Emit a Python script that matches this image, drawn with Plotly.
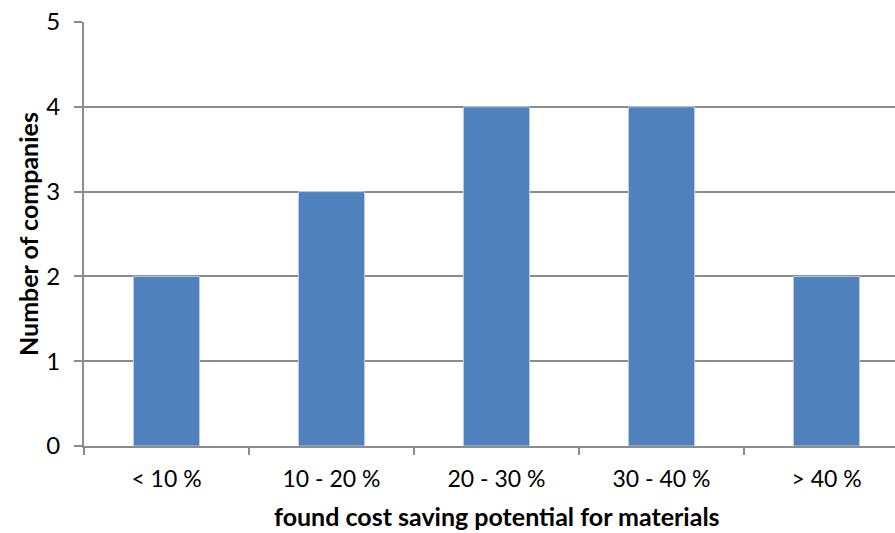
import plotly.graph_objects as go

# Survey results: cost saving potential found for materials
categories = ["< 10 %", "10 - 20 %", "20 - 30 %", "30 - 40 %", "> 40 %"]
companies = [2, 3, 4, 4, 2]

y_ticks = [0, 1, 2, 3, 4, 5]

FONT = "Lato, Calibri, Carlito, sans-serif"
GRID = "#8c8c8c"

fig = go.Figure(
    go.Bar(
        x=categories,
        y=companies,
        width=0.4,
        marker=dict(color="#4F81BD", line=dict(color="#B9CDE5", width=1)),
    )
)

fig.update_layout(
    width=895,
    height=533,
    margin=dict(l=84, r=0, t=22, b=87),
    paper_bgcolor="white",
    plot_bgcolor="white",
    showlegend=False,
    font=dict(family=FONT, size=23, color="#000000"),
    xaxis=dict(
        type="category",
        range=[-0.5, 4.415],
        showgrid=False,
        showline=True,
        linecolor=GRID,
        linewidth=2,
        ticks="outside",
        tickson="boundaries",
        ticklen=7,
        tickwidth=2,
        tickcolor=GRID,
        ticklabelstandoff=11,
        tickfont=dict(family=FONT, size=23),
    ),
    yaxis=dict(
        range=[0, 5],
        tickvals=y_ticks,
        showgrid=True,
        gridcolor=GRID,
        gridwidth=2,
        zeroline=False,
        showline=True,
        linecolor=GRID,
        linewidth=2,
        ticks="outside",
        ticklen=8,
        tickwidth=2,
        tickcolor=GRID,
        ticklabelstandoff=9,
        tickfont=dict(family=FONT, size=24),
    ),
    annotations=[
        dict(
            text="<b>found cost saving potential for materials</b>",
            x=categories[2],
            xref="x",
            y=0,
            yref="paper",
            yshift=-70,
            yanchor="middle",
            showarrow=False,
            font=dict(family=FONT, size=25),
        ),
        dict(
            text="<b>Number of companies</b>",
            x=0,
            xref="paper",
            xshift=-56,
            xanchor="center",
            y=0.5,
            yref="paper",
            yanchor="middle",
            textangle=-90,
            showarrow=False,
            font=dict(family=FONT, size=25),
        ),
    ],
)

fig.write_html("out.html")
